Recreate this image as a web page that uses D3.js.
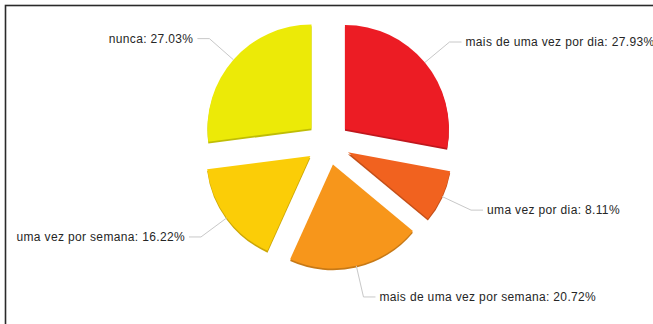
<!DOCTYPE HTML>
<html>
<head>
    <meta charset="UTF-8">
    <title></title>
    <style>
        body {
            margin: 0;
            background: #fff;
        }
        text {
            font-family: "Liberation Sans", Arial, sans-serif;
            font-size: 12px;
            letter-spacing: 0.35px;
            fill: #262626;
        }
    </style>
    <script src="https://d3js.org/d3.v7.min.js" charset="utf-8"></script>
</head>
<body>
<svg id="chart" width="653" height="324"></svg>

<script>
    // dados
    var categories = ["mais de uma vez por dia", "uma vez por dia", "mais de uma vez por semana", "uma vez por semana", "nunca"];
    var values = [27.93, 8.11, 20.72, 16.22, 27.03];
    var colors = ["#ec1c24", "#f1621f", "#f7961b", "#fbcd07", "#ecea07"];

    var svg = d3.select("#chart");
    var cx = 328, cy = 143, r = 104, explode = 22, labelR = 158;

    // moldura
    svg.append("rect")
            .attr("x", 5.5)
            .attr("y", 5.5)
            .attr("width", 700)
            .attr("height", 400)
            .attr("fill", "none")
            .attr("stroke", "#2a2a2a")
            .attr("stroke-width", 1.6);

    var pie = d3.pie().sort(null).value(function (d) { return d; });
    var arc = d3.arc().innerRadius(0).outerRadius(r);
    var arcs = pie(values);

    function dir(d) {
        var a = (d.startAngle + d.endAngle) / 2;
        return [Math.sin(a), -Math.cos(a)];
    }

    var g = svg.append("g").attr("transform", "translate(" + cx + "," + cy + ")");

    var slice = g.selectAll("g.slice")
            .data(arcs)
            .enter().append("g")
            .attr("class", "slice")
            .attr("transform", function (d) {
                var v = dir(d);
                return "translate(" + (v[0] * explode) + "," + (v[1] * explode) + ")";
            });

    // borda inferior escura (efeito 3d)
    slice.append("path")
            .attr("d", arc)
            .attr("transform", "translate(0,1.8)")
            .attr("fill", function (d, i) { return d3.color(colors[i]).darker(0.6); });

    slice.append("path")
            .attr("d", arc)
            .attr("fill", function (d, i) { return colors[i]; });

    // linhas e rótulos
    var labels = g.selectAll("g.label")
            .data(arcs)
            .enter().append("g")
            .attr("class", "label");

    labels.append("polyline")
            .attr("fill", "none")
            .attr("stroke", "#c8c8c8")
            .attr("stroke-width", 1)
            .attr("points", function (d) {
                var v = dir(d);
                var side = v[0] >= 0 ? 1 : -1;
                var p0 = [v[0] * (r + explode), v[1] * (r + explode)];
                var p1 = [v[0] * labelR, v[1] * labelR];
                var p2 = [p1[0] + side * 12, p1[1]];
                return [p0, p1, p2].join(" ");
            });

    labels.append("text")
            .attr("x", function (d) {
                var v = dir(d);
                var side = v[0] >= 0 ? 1 : -1;
                return v[0] * labelR + side * 16;
            })
            .attr("y", function (d) { return dir(d)[1] * labelR; })
            .attr("dy", "0.35em")
            .attr("text-anchor", function (d) { return dir(d)[0] >= 0 ? "start" : "end"; })
            .text(function (d, i) { return categories[i] + ": " + values[i].toFixed(2) + "%"; });
</script>
</body>
</html>
